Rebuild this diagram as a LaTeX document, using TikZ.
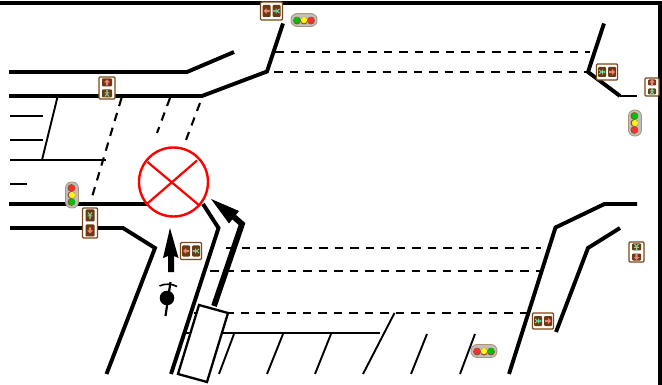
\documentclass[tikz,border=0pt]{standalone}
\definecolor{brn}{HTML}{7A4716}
\definecolor{brd}{HTML}{6B3A12}
\definecolor{pnk}{HTML}{F28078}
\definecolor{grn}{HTML}{78DCA8}
\definecolor{lampg}{HTML}{00C000}
\definecolor{lampy}{HTML}{FFF020}
\definecolor{lampr}{HTML}{F83030}
\tikzset{
  x=1pt,y=-1pt,
  road/.style={line width=3.9pt,line join=miter},
  thin road/.style={line width=1.9pt},
  lanedash/.style={line width=2.1pt,dash pattern=on 8.5pt off 7pt},
  signbox/.style={draw=brn,fill=white,line width=1.1pt,rounded corners=1pt,inner sep=0pt},
  lightbox/.style={draw=brn!60!white,fill=gray!50,line width=.8pt,rounded corners=6pt,inner sep=0pt,minimum width=26pt,minimum height=13pt},
}
\newcommand\pinkg[1]{%
  \fill[pnk,rotate=#1] (0,-3) -- (3,0) -- (1.2,0) -- (1.2,3) -- (-1.2,3) -- (-1.2,0) -- (-3,0) -- cycle;
}
\newcommand\greeng[1]{%
  \begin{scope}[rotate=#1]
  \draw[grn,line width=1pt] (-2,3) -- (0,.5) -- (2,3) (0,.5) -- (0,-2) (-2.4,-.5) -- (2.4,-.5);
  \fill[grn] (0,-2.6) circle (1.1pt);
  \end{scope}
}
% glyph cell: x,y,width,height,glyph
\newcommand\glyphcell[5]{%
  \begin{scope}[shift={({#1},{#2})}]
  \fill[brd,rounded corners=1pt] ({-(#3)/2},{-(#4)/2}) rectangle ({(#3)/2},{(#4)/2});
  #5
  \end{scope}
}
% horizontal sign: name,x,y,w,h,left glyph,right glyph
\newcommand\hsign[7]{%
  \node[signbox,minimum width=#4pt,minimum height=#5pt] (#1) at (#2,#3) {};
  \glyphcell{#2-5}{#3}{8}{#5-6}{#6}
  \glyphcell{#2+5}{#3}{8}{#5-6}{#7}
}
% vertical sign: name,x,y,w,h,top glyph,bottom glyph
\newcommand\vsign[7]{%
  \node[signbox,minimum width=#4pt,minimum height=#5pt] (#1) at (#2,#3) {};
  \glyphcell{#2}{#3-(#5)/4}{#4-6}{(#5)/2-3}{#6}
  \glyphcell{#2}{#3+(#5)/4}{#4-6}{(#5)/2-3}{#7}
}
% traffic light: name,x,y,rotation,first,second,third
\newcommand\tlight[7]{%
  \node[lightbox,rotate=#4] (#1) at (#2,#3) {};
  \begin{scope}[shift={(#2,#3)},rotate=#4]
    \foreach \px/\pc in {-7/#5,0/#6,7/#7}{
      \fill[brown!70!black] (\px,.6) circle (3.9pt);
      \fill[\pc] (\px,0) circle (3.2pt);
    }
  \end{scope}
}
\begin{document}
\begin{tikzpicture}
\useasboundingbox (0,0) rectangle (662,385);
% border
\draw[line width=3.9pt,line join=miter] (0,2.6) -- (660,2.6) -- (660,385);
% roads
\draw[road] (9,72) -- (187,72) -- (234,52);
\draw[road] (9,96) -- (202,96) -- (267,71.5) -- (283,23.5);
\draw[road] (9,204) -- (148,204);
\draw[road] (10,228) -- (123,228) -- (155,248) -- (106.5,374);
\draw[road] (203,204) -- (218.5,228) -- (171,374);
\draw[road] (604,23.5) -- (588,72) -- (620,96);
\draw[line width=2pt] (620,96) -- (637,96);
\draw[road] (509,374) -- (555.5,227.5) -- (604.5,204) -- (637,204);
\draw[road] (556,332) -- (588,248) -- (620,228);
% left stop lines
\draw[thin road] (57.5,97) -- (42,160);
\draw[thin road] (10,160) -- (106,160);
\draw[thin road] (10,116) -- (43,116);
\draw[thin road] (10,140) -- (43,140);
\draw[thin road] (10,184) -- (27,184);
% dashed lane lines
\draw[lanedash] (121.5,98) -- (92,197);
\draw[lanedash] (170,98) -- (157,133);
\draw[lanedash] (200,103) -- (186,140);
\draw[lanedash] (275,52) -- (590,52);
\draw[lanedash] (274,72) -- (588,72);
\draw[lanedash] (226,248) -- (541,248);
\draw[lanedash] (210,271) -- (540,271);
\draw[lanedash] (194,313) -- (527,313);
% lower thin lines
\draw[thin road] (183,333) -- (380,333);
\draw[thin road] (219,374) -- (234,334);
\draw[thin road] (267,374) -- (283,334);
\draw[thin road] (315,374) -- (331,334);
\draw[thin road] (363,374) -- (394.5,313);
\draw[thin road] (411,374) -- (427,334);
\draw[thin road] (460,374) -- (475,334);
% forbidden mark
\draw[red,line width=2.4pt] (173.5,182) circle (34.5pt);
\draw[red,line width=2.2pt] (147.5,162) -- (200,206);
\draw[red,line width=2.2pt] (197,160.5) -- (148,203);
% arrows
\fill (170,228) -- (178.5,258) -- (174,256) -- (174,272) -- (168,272) -- (168,256) -- (163,258) -- cycle;
\draw[line width=5.8pt,line join=miter] (214,306) -- (242,224) -- (234,217);
\fill (211,199) -- (239,211) -- (229,223.5) -- cycle;
% bicycle
\fill (167,298) circle (7.3pt);
\draw[line width=2.2pt] (165.5,316) -- (170.5,282);
\draw[line width=1.6pt] (159.5,286) .. controls (164,283.5) and (172,283.5) .. (177,286.5);
% vehicle
\draw[line width=2.3pt,fill=white,line join=miter] (199,305) -- (228,313) -- (207,382) -- (178,374) -- cycle;
% pedestrian signals
\hsign{sa}{271.5}{11}{22}{18}{\pinkg{90}}{\greeng{90}}
\vsign{sb}{107}{88}{16}{22}{\pinkg{0}}{\greeng{0}}
\vsign{sc}{90}{223}{15}{30}{\greeng{180}}{\pinkg{180}}
\hsign{sd}{191}{251}{21}{17}{\pinkg{90}}{\greeng{90}}
\hsign{se}{543}{321}{21}{16}{\greeng{-90}}{\pinkg{-90}}
\hsign{sf}{607}{72}{21}{16}{\greeng{-90}}{\pinkg{-90}}
\vsign{sg}{652}{87}{14}{18}{\pinkg{0}}{\greeng{0}}
\vsign{sh}{636.5}{252}{15}{20}{\greeng{180}}{\pinkg{180}}
% traffic lights
\tlight{la}{304}{20}{0}{lampg}{lampy}{lampr}
\tlight{lb}{484}{351}{0}{lampr}{lampy}{lampg}
\tlight{lc}{72}{195}{-90}{lampr}{lampy}{lampg}
\tlight{ld}{635}{123}{-90}{lampg}{lampy}{lampr}
\end{tikzpicture}
\end{document}
